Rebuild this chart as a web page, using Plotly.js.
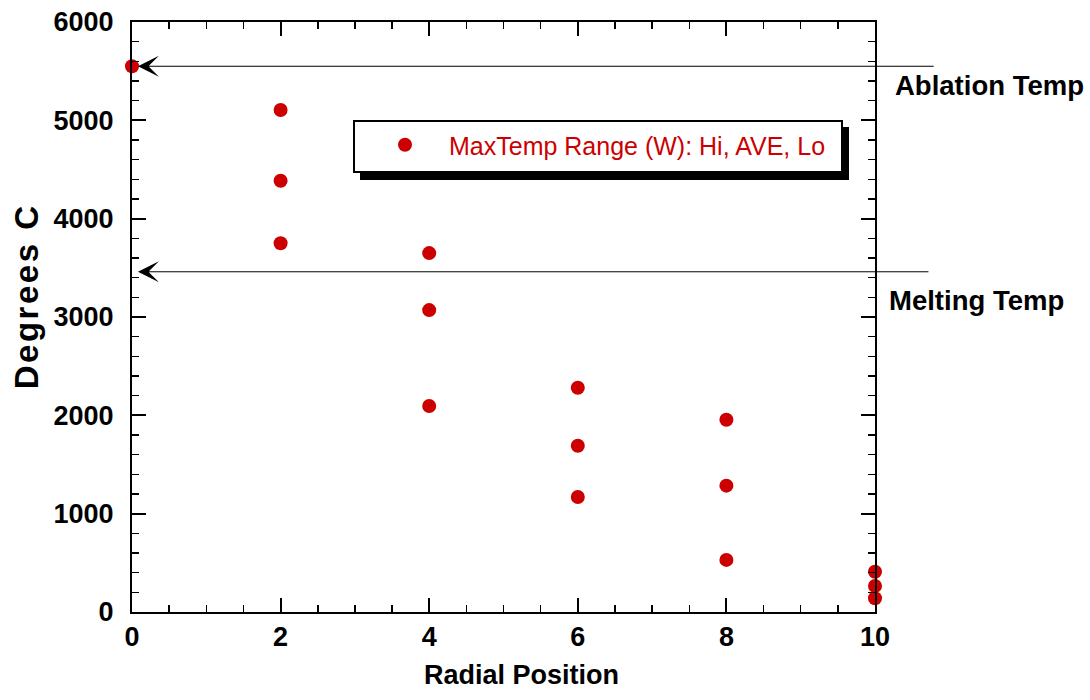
<!DOCTYPE html>
<html>
<head>
<meta charset="utf-8">
<script src="https://cdn.plot.ly/plotly-3.0.1.min.js"></script>
<style>html,body{margin:0;padding:0;background:#fff;}#chart{width:1090px;height:700px;}</style>
</head>
<body>
<div id="chart"></div>
<script>
// Data
const radialPosition = [0, 2, 2, 2, 4, 4, 4, 6, 6, 6, 8, 8, 8, 10, 10, 10];
const maxTempC      = [5550, 5105, 4385, 3750, 3650, 3070, 2095, 2280, 1690, 1170, 1955, 1285, 530, 410, 265, 140];
const seriesName = 'MaxTemp Range (W): Hi, AVE, Lo';
const ablationTemp = 5550;
const meltingTemp = 3460;
const refLabels = ['Ablation Temp', 'Melting Temp'];
const xTitle = 'Radial Position';
const yTitle = 'Degrees C';

const red = '#cc0000';
const font = 'Arial, "Liberation Sans", Helvetica, sans-serif';

// plot area in px: left 132, right 875, top 22, bottom 612
const px2x = p => (p - 132) / 743;
const px2y = p => (612 - p) / 590;

const trace = {
  x: radialPosition, y: maxTempC, type: 'scatter', mode: 'markers',
  name: seriesName, cliponaxis: false,
  marker: {color: red, size: 14}
};

const axisCommon = {
  showline: true, linecolor: '#000', linewidth: 2, mirror: 'ticks',
  ticks: 'inside', ticklen: 14, tickwidth: 2, tickcolor: '#000',
  showgrid: false, zeroline: false,
  tickfont: {family: font, size: 27, color: '#000', weight: 'bold'}
};

const boldFont = (s) => ({family: font, size: s, color: '#000', weight: 'bold'});

const layout = {
  width: 1090, height: 700,
  margin: {l: 132, r: 215, t: 22, b: 88},
  paper_bgcolor: '#fff', plot_bgcolor: '#fff',
  showlegend: true,
  legend: {
    x: px2x(361), y: px2y(122), xanchor: 'left', yanchor: 'top',
    bgcolor: 'rgba(0,0,0,0)', borderwidth: 0,
    font: {family: font, size: 25, color: red},
    itemwidth: 78
  },
  xaxis: Object.assign({}, axisCommon, {
    range: [0, 10], dtick: 2, tick0: 0,
    ticklabelstandoff: 0,
    minor: {ticks: 'inside', ticklen: 7, tickwidth: 1.5, tickcolor: '#000', dtick: 0.5}
  }),
  yaxis: Object.assign({}, axisCommon, {
    range: [0, 6000], dtick: 1000, tick0: 0,
    ticklabelstandoff: 11,
    minor: {ticks: 'inside', ticklen: 7, tickwidth: 1.5, tickcolor: '#000', dtick: 200}
  }),
  shapes: [
    // legend shadow
    {type: 'rect', xref: 'paper', yref: 'paper', layer: 'above',
     x0: px2x(360), x1: px2x(849), y0: px2y(180), y1: px2y(127),
     fillcolor: '#000', line: {width: 0}},
    // legend box
    {type: 'rect', xref: 'paper', yref: 'paper', layer: 'above',
     x0: px2x(354), x1: px2x(842), y0: px2y(172), y1: px2y(121),
     fillcolor: '#fff', line: {color: '#000', width: 2}}
  ],
  annotations: [
    {x: 0.08, y: ablationTemp, xref: 'x', yref: 'y', ax: 10.81, ay: ablationTemp, axref: 'x', ayref: 'y',
     showarrow: true, arrowhead: 3, arrowsize: 3.5, arrowwidth: 1, arrowcolor: '#000', text: ''},
    {x: 0.08, y: meltingTemp, xref: 'x', yref: 'y', ax: 10.74, ay: meltingTemp, axref: 'x', ayref: 'y',
     showarrow: true, arrowhead: 3, arrowsize: 3.5, arrowwidth: 1, arrowcolor: '#000', text: ''},
    {x: px2x(893), y: px2y(86), xref: 'paper', yref: 'paper', xanchor: 'left', yanchor: 'middle',
     showarrow: false, text: refLabels[0], font: boldFont(27.5)},
    {x: px2x(887), y: px2y(300), xref: 'paper', yref: 'paper', xanchor: 'left', yanchor: 'middle',
     showarrow: false, text: refLabels[1], font: boldFont(27.5)},
    // axis titles
    {x: px2x(521), y: px2y(675), xref: 'paper', yref: 'paper', xanchor: 'center', yanchor: 'middle',
     showarrow: false, text: xTitle, font: boldFont(27)},
    {x: px2x(26), y: px2y(297), xref: 'paper', yref: 'paper', xanchor: 'center', yanchor: 'middle',
     showarrow: false, textangle: -90, text: yTitle, font: boldFont(33)}
  ]
};

Plotly.newPlot('chart', [trace], layout, {displayModeBar: false, staticPlot: true}).then(gd => {
  // the reference's vertical title is set slightly wider than the font's natural spacing
  const anns = gd.querySelectorAll('.annotation');
  const last = anns[anns.length - 1];
  if (last) last.querySelectorAll('text').forEach(t => { t.style.letterSpacing = '2.5px'; });
});
</script>
</body>
</html>
